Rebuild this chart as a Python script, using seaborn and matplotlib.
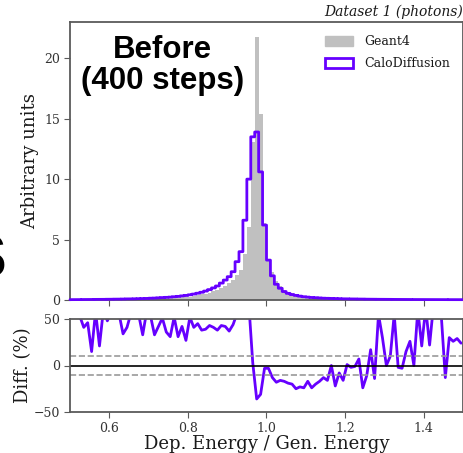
import numpy as np
import pandas as pd
import matplotlib
matplotlib.use("Agg")
import matplotlib.pyplot as plt
from matplotlib.patches import Patch
import seaborn as sns

# Histogram binning of E_dep / E_gen
bin_range = (0.5, 1.5)
n_bins = 100

# CaloDiffusion normalised bin contents (arbitrary units)
calodiffusion = [
    0.03, 0.03, 0.035, 0.04, 0.04, 0.045, 0.05, 0.05, 0.055, 0.06,
    0.065, 0.07, 0.075, 0.08, 0.09, 0.095, 0.10, 0.11, 0.12, 0.13,
    0.15, 0.16, 0.18, 0.20, 0.22, 0.24, 0.27, 0.30, 0.34, 0.38,
    0.43, 0.49, 0.56, 0.64, 0.74, 0.86, 1.00, 1.16, 1.40, 1.65,
    1.93, 2.34, 3.17, 4.0, 6.6, 10.0, 13.5, 13.9, 10.6, 6.2,
    3.3, 2.0, 1.3, 0.97, 0.70, 0.55, 0.45, 0.38, 0.32, 0.27,
    0.24, 0.21, 0.19, 0.17, 0.15, 0.14, 0.13, 0.12, 0.11, 0.10,
    0.095, 0.09, 0.085, 0.08, 0.075, 0.07, 0.065, 0.062, 0.06, 0.057,
    0.054, 0.052, 0.05, 0.048, 0.046, 0.044, 0.042, 0.04, 0.039, 0.038,
    0.036, 0.035, 0.034, 0.033, 0.032, 0.031, 0.03, 0.03, 0.029, 0.028,
]

# Relative difference CaloDiffusion vs Geant4 per bin (%)
diff_pct = [
    62, 58, 53, 41, 46, 15, 58, 21, 60, 48,
    57, 63, 55, 34, 41, 56, 60, 54, 33, 58,
    53, 33, 42, 51, 36, 31, 52, 31, 42, 27,
    52, 41, 45, 38, 39, 43, 41, 38, 43, 42,
    37, 44, 56, 62, 72, 66, 3, -36, -31, -3,
    -3, -13, -18, -16, -17, -19, -20, -25, -23, -24,
    -17, -24, -20, -17, -13, -16, 0, -22, -8, -16,
    1, -2, -1, 7, -24, -11, 17, -14, 55, 30,
    0, 10, 55, -2, -3, 15, 26, 0, 60, 21,
    62, 22, 65, 58, 52, -13, 30, 26, 29, 24,
]

xticks = [0.6, 0.8, 1.0, 1.2, 1.4]
yticks_top = [0, 5, 10, 15, 20]
yticks_diff = [-50, 0, 50]

bin_edges = np.linspace(bin_range[0], bin_range[1], n_bins + 1)
centers = 0.5 * (bin_edges[:-1] + bin_edges[1:])
calo = np.array(calodiffusion)
diff = np.array(diff_pct, dtype=float)
geant4 = calo / (1.0 + diff / 100.0)

df = pd.DataFrame({"x": centers, "geant4": geant4, "calo": calo, "diff": diff})

sns.set_style("ticks")
plt.rcParams["font.family"] = ["DejaVu Serif"]
plt.rcParams["text.color"] = "#1a1a1a"
plt.rcParams["axes.labelcolor"] = "#1a1a1a"

PURPLE = "#6600ff"
GREY = "#c0c0c0"
FRAME = "#5a5a5a"

fig = plt.figure(figsize=(4.64, 4.53), dpi=100)
ax = fig.add_axes([70 / 464, 1 - 300 / 453, 393 / 464, 278 / 453])
axd = fig.add_axes([70 / 464, 1 - 412 / 453, 393 / 464, 93 / 453])

sns.histplot(data=df, x="x", weights="geant4", bins=n_bins, binrange=bin_range,
             stat="count", element="bars", color=GREY, alpha=1.0, linewidth=0,
             ax=ax)
n_lines = len(ax.lines)
sns.histplot(data=df, x="x", weights="calo", bins=n_bins, binrange=bin_range,
             stat="count", element="step", fill=False, color=PURPLE,
             linewidth=2.0, ax=ax)
for ln in ax.lines[n_lines:]:
    ln.set_zorder(5)
    ln.set_clip_on(False)
    ln.set_snap(False)

ax.set_xlim(*bin_range)
ax.set_ylim(0, 23)
ax.set_xticks(xticks)
ax.set_xticklabels([])
ax.set_yticks(yticks_top)
ax.set_xlabel("")
ax.set_ylabel("Arbitrary units", fontsize=13, labelpad=4)

handles = [Patch(facecolor=GREY, edgecolor=GREY, label="Geant4"),
           Patch(facecolor="white", edgecolor=PURPLE, linewidth=2, label="CaloDiffusion")]
ax.legend(handles=handles, loc="upper right", frameon=False, fontsize=9,
          handlelength=2.3, handleheight=0.85, borderaxespad=0.65,
          labelspacing=0.7, handletextpad=0.85)

ax.text(0.235, 0.955, "Before\n(400 steps)", transform=ax.transAxes,
        ha="center", va="top", fontsize=22.5, fontweight="bold",
        family=["Liberation Sans"], linespacing=1.05, color="black")
ax.text(1.0, 1.012, "Dataset 1 (photons)", transform=ax.transAxes,
        ha="right", va="bottom", fontsize=10, style="italic")

sns.lineplot(data=df, x="x", y="diff", color=PURPLE, linewidth=2.0, ax=axd)
axd.axhline(0, color="black", linewidth=1.2)
for lvl in (-10, 10):
    axd.axhline(lvl, color="#999999", linewidth=1.2, linestyle="--")
axd.set_xlim(*bin_range)
axd.set_ylim(-50, 50)
axd.set_xticks(xticks)
axd.set_yticks(yticks_diff)
axd.set_xlabel("Dep. Energy / Gen. Energy", fontsize=13, labelpad=0)
axd.set_ylabel("Diff. (%)", fontsize=13, labelpad=1)

for a in (ax, axd):
    for sp in a.spines.values():
        sp.set_color(FRAME)
        sp.set_linewidth(1.3)
    a.tick_params(colors="#333333", labelsize=9, direction="out", length=4,
                  color=FRAME, pad=3)

# Neighbouring panel glyph at the very left edge
fig.text(6 / 464, 1 - 277 / 453, "S", ha="right", va="baseline",
         fontsize=44, fontweight="bold", family=["Liberation Sans"],
         color="black")

fig.savefig("out.png", dpi=100)
